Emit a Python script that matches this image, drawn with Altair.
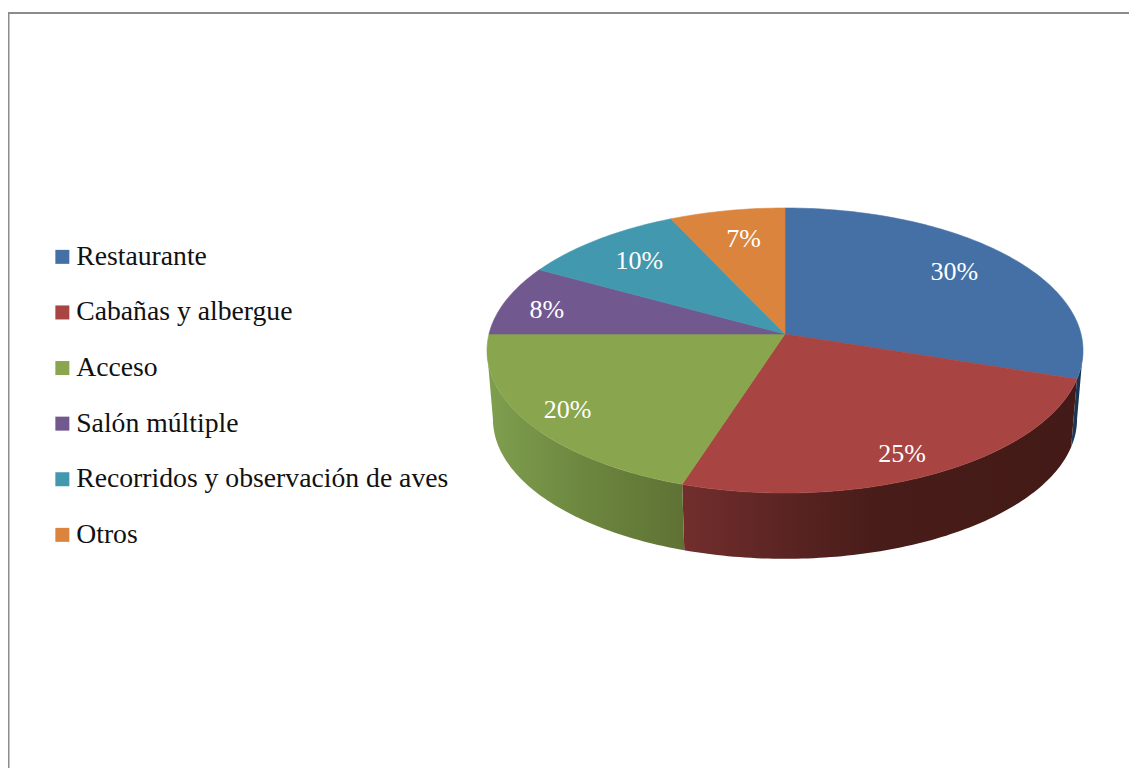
import math
import altair as alt

categories = ["Restaurante", "Cabañas y albergue", "Acceso", "Salón múltiple",
              "Recorridos y observación de aves", "Otros"]
shares = [30, 25, 20, 8, 10, 7]
colors = ["#4470a5", "#a84442", "#89a54e", "#71588f", "#4198af", "#db843d"]
label_radius = [0.765, 0.852, 0.855, 0.841, 0.765, 0.755]
label_turn = [-2, 2, 0, -2, 0, 1]

W, H = 1121, 760
RX, RY = 296.0, 140.6
PERSP = 0.1158
CX, CY = 785 - 8, 334 - 8
FLAT = RY / RX
SHRINK = 0.98
DROP = 69 / RX
EDGE = math.degrees(math.acos(-PERSP))


def rim(deg, r=1.0):
    t = math.radians(deg)
    u, v = r * math.sin(t), r * math.cos(t)
    d = 1 + PERSP * v
    return [u / d, FLAT * v / d]


def low(deg):
    x, y = rim(deg)
    return [x * SHRINK, y * SHRINK - DROP]


def feature(name, ring):
    ring = ring + [ring[0]]
    return {"type": "Feature", "properties": {"name": name},
            "geometry": {"type": "Polygon", "coordinates": [ring]}}


def arc_degs(a, b):
    n = max(2, int(abs(b - a)))
    return [a + (b - a) * i / n for i in range(n + 1)]


faces, labels, bounds = [], [], []
acc = 0
for name, s, r, turn in zip(categories, shares, label_radius, label_turn):
    a, b = acc * 3.6, (acc + s) * 3.6
    bounds.append((a, b))
    faces.append(feature(name, [[0, 0]] + [rim(d) for d in arc_degs(a, b)]))
    lx, ly = rim((a + b) / 2 + turn, r)
    labels.append({"lon": lx, "lat": ly, "label": f"{s}%"})
    acc += s


def wall(name, a, b):
    degs = arc_degs(a, b)
    return feature(name, [rim(d) for d in degs] + [low(d) for d in reversed(degs)])


def grad(stops):
    return alt.Gradient(gradient="linear", x1=0, x2=1, y1=0, y2=0,
                        stops=[alt.GradientStop(offset=o, color=c) for o, c in stops])


PROJ = dict(type="identity", reflectY=True, scale=RX, translate=[CX, CY])

wall_styles = [
    (wall(categories[0], EDGE, bounds[0][1]), [(0, "#1d3a5c"), (1, "#16304e")]),
    (wall(categories[1], bounds[1][0], bounds[1][1]),
     [(0, "#722e2d"), (0.3, "#572321"), (0.5, "#481c19"), (1, "#431a17")]),
    (wall(categories[2], bounds[2][0], 360 - EDGE),
     [(0, "#7f9f4e"), (0.5, "#6c863f"), (1, "#5f7234")]),
]
wall_layers = [
    alt.Chart(alt.Data(values=[f])).mark_geoshape(
        fill=grad(st), strokeWidth=0, stroke="transparent").project(**PROJ)
    for f, st in wall_styles
]

scale = alt.Scale(domain=categories, range=colors)
tops = alt.Chart(alt.Data(values=faces)).mark_geoshape(strokeWidth=0.6).encode(
    fill=alt.Fill("properties.name:N", scale=scale, sort=categories, legend=alt.Legend(
        title=None, orient="none", legendX=40.5, legendY=235,
        symbolType="square", symbolSize=196, symbolStrokeWidth=0,
        labelFont="Liberation Serif", labelFontSize=27.7, labelColor="#111111",
        labelLimit=500, labelOffset=0, rowPadding=26.6, padding=0)),
    stroke=alt.Stroke("properties.name:N", scale=scale, legend=None),
).project(**PROJ)

texts = alt.Chart(alt.Data(values=labels)).mark_text(
    font="Liberation Serif", fontSize=26, color="white", align="center", baseline="middle", dy=1
).encode(longitude="lon:Q", latitude="lat:Q", text="label:N").project(**PROJ)

frame_top = alt.Chart(alt.Data(values=[{}])).mark_rule(color="#8c8c8c", strokeWidth=2).encode(
    x=alt.value(0), x2=alt.value(W), y=alt.value(5))
frame_left = alt.Chart(alt.Data(values=[{}])).mark_rule(color="#8c8c8c", strokeWidth=2).encode(
    y=alt.value(4), y2=alt.value(H), x=alt.value(0.5))

chart = alt.layer(*wall_layers, tops, texts, frame_top, frame_left).properties(
    width=W, height=H, padding=0, autosize=alt.AutoSizeParams(type="none"), background="white"
).configure_view(stroke=None)

chart.save("out.html", embed_options={"renderer": "svg", "actions": False})
